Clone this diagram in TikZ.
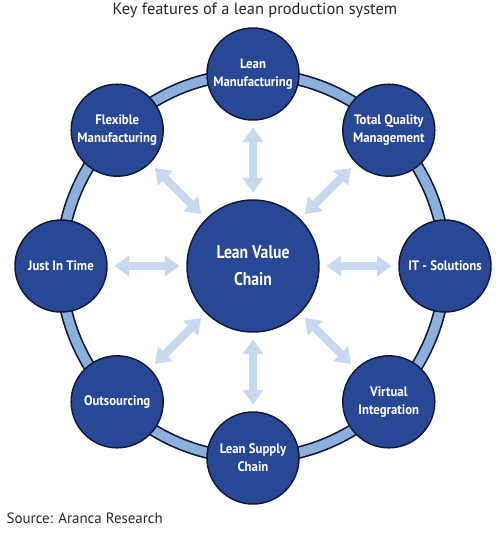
\documentclass[tikz,border=0pt]{standalone}
\usepackage{fontspec}
\setmainfont{PT Sans}
\newfontfamily\condA[FakeStretch=0.93]{PT Sans}
\newfontfamily\condB[FakeStretch=0.85]{PT Sans}
\usetikzlibrary{arrows.meta}
\definecolor{nodefill}{RGB}{40,72,150}
\definecolor{nodeline}{RGB}{15,25,55}
\definecolor{ringc}{RGB}{140,175,220}
\definecolor{arrc}{RGB}{200,217,239}
\tikzset{
  feat/.style={circle, minimum size=69pt, inner sep=0pt, fill=nodefill, draw=nodeline, line width=1.1pt,
    text=white, align=center, font=\condA\bfseries\fontsize{10.3}{13.5}\selectfont},
  hub/.style={circle, minimum size=99pt, inner sep=0pt, fill=nodefill, draw=nodeline, line width=1.1pt,
    text=white, align=center, font=\condB\bfseries\fontsize{13.8}{20}\selectfont},
  link/.style={draw=arrc, line width=6pt, shorten <=5pt, shorten >=5pt,
    {Triangle[width=15pt,length=11pt]}-{Triangle[width=15pt,length=11pt]}},
}
\begin{document}
\begin{tikzpicture}[x=0.75pt,y=-0.75pt]
\useasboundingbox (0,0) rectangle (500,536);
\node[font=\fontsize{12.3}{14}\selectfont, text=black!85] (title) at (255,10) {Key features of a lean production system};
\node[font=\fontsize{11.2}{13}\selectfont, text=black!85, anchor=west] (src) at (2,518) {Source: Aranca Research};
% ring
\coordinate (o) at (253,266);
\draw[nodeline, line width=9.5pt] (o) circle[radius=192];
\draw[ringc, line width=7pt] (o) circle[radius=192];
% nodes
\node[hub] (c) at (o) {Lean Value\\Chain};
\node[feat] (n1) at (253,74) {Lean\\Manufacturing};
\node[feat] (n2) at (388.8,130.2) {Total Quality\\Management};
\node[feat] (n3) at (445,266) {IT - Solutions};
\node[feat] (n4) at (388.8,401.8) {Virtual\\Integration};
\node[feat] (n5) at (253,458) {Lean Supply\\Chain};
\node[feat] (n6) at (117.2,401.8) {Outsourcing};
\node[feat] (n7) at (61,266) {Just In Time};
\node[feat] (n8) at (117.2,130.2) {Flexible\\Manufacturing};
% connectors
\foreach \n in {n1,n2,n3,n4,n5,n6,n7,n8}
  \draw[link] (c) -- (\n);
\end{tikzpicture}
\end{document}
